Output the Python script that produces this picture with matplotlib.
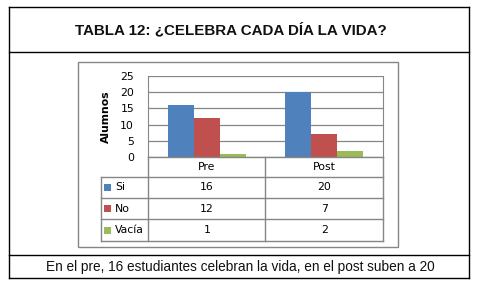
import matplotlib
matplotlib.use("Agg")
import matplotlib.pyplot as plt
from matplotlib.patches import Rectangle
from matplotlib.lines import Line2D

# ---- data ----
categories = ["Pre", "Post"]
series_names = ["Si", "No", "Vacía"]
si_values = [16, 20]
no_values = [12, 7]
vacia_values = [1, 2]
y_ticks = [0, 5, 10, 15, 20, 25]
title_text = "TABLA 12: ¿CELEBRA CADA DÍA LA VIDA?"
footer_text = "En el pre, 16 estudiantes celebran la vida, en el post suben a 20"
y_label = "Alumnos"

series_values = [si_values, no_values, vacia_values]
colors = ["#4F81BD", "#C0504D", "#9BBB59"]

W, H = 481, 290
fig = plt.figure(figsize=(W / 100, H / 100), dpi=100)
fig.patch.set_facecolor("white")


def fx(px):
    return px / W


def fy(py):
    return 1 - py / H


def hline(x0, x1, y, color="black", lw=1.0):
    fig.add_artist(Line2D([fx(x0), fx(x1)], [fy(y), fy(y)], color=color, lw=lw,
                          transform=fig.transFigure))


def vline(x, y0, y1, color="black", lw=1.0):
    fig.add_artist(Line2D([fx(x), fx(x)], [fy(y0), fy(y1)], color=color, lw=lw,
                          transform=fig.transFigure))


# outer table frame
hline(9, 469, 7)
hline(9, 469, 52)
hline(9, 469, 255)
hline(9, 469, 278)
vline(9, 7, 278)
vline(469, 7, 278)

fig.text(fx(231), fy(30), title_text, ha="center", va="center",
         fontsize=10.9, fontweight="bold", family="Liberation Sans", color="#111111")
fig.text(fx(240.5), fy(267), footer_text, ha="center", va="center",
         fontsize=9.8, family="Liberation Sans", color="#111111")

# chart box
gray = "#868686"
fig.add_artist(Rectangle((fx(78), fy(247)), fx(398) - fx(78), fy(62) - fy(247),
                         fill=False, edgecolor=gray, lw=1.0, transform=fig.transFigure))

# plot area
L, R, T, B = 148, 383, 76, 157
ax = fig.add_axes([fx(L), fy(B), fx(R) - fx(L), fy(T) - fy(B)])
x = list(range(len(categories)))
bw = 0.22
for i, (vals, c) in enumerate(zip(series_values, colors)):
    ax.bar([xi + (i - 1) * bw for xi in x], vals, width=bw, color=c, zorder=3,
           edgecolor="none")
ax.set_xlim(-0.5, len(categories) - 0.5)
ax.set_ylim(0, 25)
ax.set_yticks(y_ticks)
ax.set_yticklabels([str(t) for t in y_ticks], fontsize=7.8, family="DejaVu Sans")
ax.tick_params(axis="y", length=0, pad=10)
ax.set_xticks([])
ax.yaxis.grid(True, color=gray, lw=0.9, zorder=0)
for s in ["top", "bottom"]:
    ax.spines[s].set_visible(False)
for s in ["left", "right"]:
    ax.spines[s].set_color(gray)
ax.set_ylabel(y_label, fontsize=7.8, fontweight="bold", family="DejaVu Sans", labelpad=7)

# data table below the plot
rows_y = [157, 177, 198, 219, 241]
tab_left = 101
col_edges_px = [L] + [L + (R - L) * (k + 1) / len(categories) for k in range(len(categories))]
hline(L, R, 157, color=gray)
for yy in rows_y[1:]:
    hline(tab_left, R, yy, color=gray)
vline(tab_left, rows_y[1], rows_y[-1], color=gray)
for xe in col_edges_px:
    vline(xe, rows_y[0], rows_y[-1], color=gray)

col_centers = [(col_edges_px[k] + col_edges_px[k + 1]) / 2 for k in range(len(categories))]
for k, cat in enumerate(categories):
    fig.text(fx(col_centers[k]), fy((rows_y[0] + rows_y[1]) / 2), cat, ha="center",
             va="center", fontsize=7.8, family="DejaVu Sans")
for r, (name, vals, c) in enumerate(zip(series_names, series_values, colors)):
    yc = (rows_y[r + 1] + rows_y[r + 2]) / 2
    fig.add_artist(Rectangle((fx(104), fy(yc + 3.5)), fx(7), 7 / H, facecolor=c,
                             edgecolor="none", transform=fig.transFigure))
    fig.text(fx(115), fy(yc), name, ha="left", va="center", fontsize=7.8,
             family="DejaVu Sans")
    for k in range(len(categories)):
        fig.text(fx(col_centers[k]), fy(yc), str(vals[k]), ha="center", va="center",
                 fontsize=7.8, family="DejaVu Sans")

fig.savefig("out.png", dpi=100)
